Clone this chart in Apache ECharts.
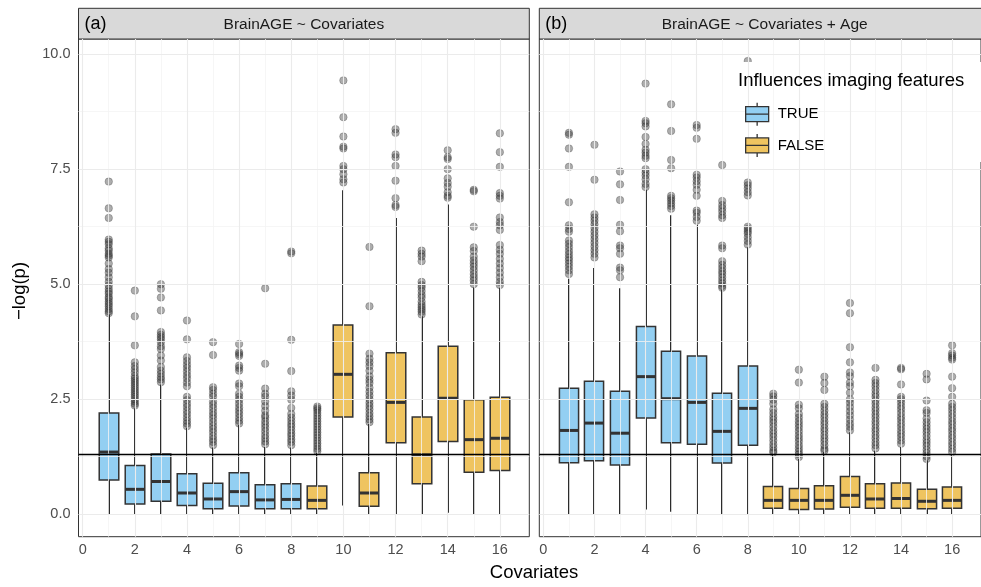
<!DOCTYPE html>
<html>
<head>
<meta charset="utf-8">
<script src="https://cdn.jsdelivr.net/npm/echarts@6/dist/echarts.min.js"></script>
<style>
  html, body { margin: 0; padding: 0; background: #fff; }
  #chart { width: 981px; height: 587px; }
</style>
</head>
<body>
<div id="chart"></div>
<script>
// covariate index and whether it influences imaging features
const covariates = [1, 2, 3, 4, 5, 6, 7, 8, 9, 10, 11, 12, 13, 14, 15, 16]
const influences = ['TRUE', 'TRUE', 'TRUE', 'TRUE', 'TRUE', 'TRUE', 'TRUE', 'TRUE',
  'FALSE', 'FALSE', 'FALSE', 'FALSE', 'FALSE', 'FALSE', 'FALSE', 'FALSE']

// (a) BrainAGE ~ Covariates : whisker low, q1, median, q3, whisker high
const aLow = [0, 0, 0, 0, 0, 0, 0, 0, 0, 0.19, 0, 0, 0, 0.03, 0, 0]
const aQ1 = [0.74, 0.22, 0.28, 0.19, 0.12, 0.18, 0.12, 0.12, 0.12, 2.11, 0.17, 1.55, 0.66, 1.58, 0.91, 0.95]
const aMed = [1.35, 0.54, 0.71, 0.46, 0.33, 0.49, 0.31, 0.32, 0.30, 3.04, 0.46, 2.43, 1.29, 2.52, 1.62, 1.65]
const aQ3 = [2.20, 1.06, 1.31, 0.88, 0.67, 0.90, 0.64, 0.66, 0.61, 4.11, 0.90, 3.51, 2.11, 3.65, 2.49, 2.54]
const aHigh = [4.34, 2.30, 2.82, 1.88, 1.45, 1.94, 1.46, 1.45, 1.33, 7.04, 1.96, 6.44, 4.30, 6.73, 4.93, 4.92]
const aOut = [
  [7.23, 6.65, 6.44, 5.97, 5.92, 5.87, 5.78, 5.73, 5.66, 5.62, 5.58, 5.45, 5.33, 5.25, 5.15, 5.05, 4.97, 4.9, 4.84, 4.79, 4.72, 4.68, 4.62, 4.57, 4.52, 4.46, 4.41, 4.37],
  [4.86, 4.30, 3.67, 3.30, 3.22, 3.15, 3.08, 3.0, 2.95, 2.9, 2.85, 2.8, 2.75, 2.7, 2.65, 2.6, 2.55, 2.5, 2.45, 2.4, 2.36],
  [5.0, 4.9, 4.71, 4.43, 3.96, 3.9, 3.85, 3.8, 3.74, 3.65, 3.59, 3.45, 3.34, 3.2, 3.12, 3.05, 2.98, 2.93, 2.87],
  [4.21, 3.8, 3.41, 3.33, 3.25, 3.18, 3.1, 3.02, 2.95, 2.86, 2.78, 2.55, 2.48, 2.4, 2.33, 2.25, 2.18, 2.1, 2.03, 1.97, 1.91],
  [3.74, 3.46, 2.76, 2.7, 2.62, 2.55, 2.45, 2.38, 2.3, 2.22, 2.15, 2.08, 2.0, 1.92, 1.85, 1.78, 1.7, 1.63, 1.57, 1.5],
  [3.70, 3.52, 3.48, 3.44, 3.23, 3.18, 3.12, 2.84, 2.78, 2.62, 2.55, 2.48, 2.4, 2.32, 2.25, 2.18, 2.1, 2.03, 1.97],
  [4.91, 3.27, 2.73, 2.62, 2.55, 2.45, 2.35, 2.25, 2.15, 2.1, 2.02, 1.95, 1.88, 1.8, 1.72, 1.65, 1.58, 1.52],
  [5.71, 5.67, 3.79, 3.11, 2.67, 2.58, 2.49, 2.31, 2.18, 2.1, 2.03, 1.96, 1.9, 1.83, 1.76, 1.7, 1.63, 1.57, 1.5],
  [2.34, 2.3, 2.26, 2.2, 2.14, 2.08, 2.02, 1.96, 1.9, 1.84, 1.78, 1.72, 1.66, 1.6, 1.54, 1.48, 1.42, 1.37],
  [9.43, 8.63, 8.21, 7.99, 7.95, 7.57, 7.5, 7.39, 7.28, 7.21],
  [5.81, 4.52, 3.49, 3.38, 3.3, 3.22, 3.12, 3.0, 2.92, 2.85, 2.75, 2.66, 2.58, 2.5, 2.42, 2.35, 2.28, 2.2, 2.13, 2.06, 2.0],
  [8.37, 8.29, 7.82, 7.76, 7.57, 7.25, 6.87, 6.72, 6.68],
  [5.73, 5.66, 5.6, 5.5, 5.05, 4.98, 4.93, 4.85, 4.77, 4.71, 4.62, 4.55, 4.5, 4.45, 4.4, 4.34],
  [7.91, 7.76, 7.72, 7.5, 7.3, 7.2, 7.12, 7.0, 6.92, 6.88],
  [7.05, 7.02, 6.25, 5.8, 5.72, 5.6, 5.52, 5.45, 5.38, 5.3, 5.22, 5.15, 5.08, 5.0],
  [8.28, 7.87, 7.55, 6.98, 6.92, 6.86, 6.45, 6.35, 6.28, 6.18, 5.85, 5.75, 5.66, 5.55, 5.45, 5.35, 5.25, 5.15, 5.05, 4.98]
]

// (b) BrainAGE ~ Covariates + Age
const bLow = [0, 0, 0, 0.10, 0.05, 0, 0, 0, 0, 0, 0, 0, 0, 0, 0, 0]
const bQ1 = [1.12, 1.16, 1.07, 2.09, 1.55, 1.52, 1.11, 1.50, 0.13, 0.10, 0.11, 0.15, 0.13, 0.13, 0.12, 0.13]
const bMed = [1.82, 1.98, 1.76, 2.99, 2.51, 2.43, 1.80, 2.30, 0.30, 0.30, 0.30, 0.41, 0.33, 0.34, 0.28, 0.30]
const bQ3 = [2.74, 2.89, 2.67, 4.08, 3.54, 3.44, 2.63, 3.22, 0.60, 0.56, 0.62, 0.82, 0.66, 0.68, 0.54, 0.59]
const bHigh = [5.12, 5.35, 4.91, 7.05, 6.50, 6.29, 4.88, 5.80, 1.30, 1.20, 1.35, 1.78, 1.38, 1.46, 1.17, 1.30]
const bOut = [
  [8.29, 8.25, 7.95, 7.55, 6.78, 6.28, 6.2, 6.14, 5.95, 5.88, 5.8, 5.72, 5.65, 5.58, 5.52, 5.45, 5.38, 5.3, 5.22],
  [8.03, 7.27, 6.52, 6.45, 6.38, 6.3, 6.22, 6.14, 6.06, 5.98, 5.9, 5.82, 5.74, 5.66, 5.58],
  [7.45, 7.17, 6.83, 6.29, 6.15, 5.84, 5.78, 5.66, 5.36, 5.3, 5.15],
  [9.36, 8.55, 8.5, 8.43, 8.2, 8.05, 7.92, 7.86, 7.79, 7.74, 7.5, 7.43, 7.36, 7.28, 7.18, 7.11],
  [8.91, 8.33, 7.7, 7.52, 6.92, 6.87, 6.82, 6.76, 6.7, 6.64],
  [8.46, 8.4, 8.16, 7.38, 7.32, 7.24, 7.16, 7.05, 6.92, 6.6, 6.55, 6.46, 6.38],
  [7.59, 6.81, 6.72, 6.65, 6.58, 6.5, 6.44, 5.84, 5.78, 5.5, 5.42, 5.35, 5.28, 5.22, 5.15, 5.08, 5.02, 4.96, 4.92],
  [9.85, 7.21, 7.15, 7.08, 7.0, 6.93, 6.25, 6.2, 6.15, 6.1, 6.02, 5.94, 5.86],
  [2.62, 2.56, 2.49, 2.4, 2.28, 2.2, 2.12, 2.05, 1.98, 1.9, 1.82, 1.75, 1.68, 1.6, 1.52, 1.45, 1.38, 1.34],
  [3.14, 2.86, 2.38, 2.3, 2.18, 2.1, 2.02, 1.95, 1.88, 1.8, 1.72, 1.65, 1.58, 1.5, 1.43, 1.36, 1.3, 1.24],
  [2.99, 2.85, 2.7, 2.4, 2.33, 2.25, 2.17, 2.1, 2.02, 1.95, 1.87, 1.8, 1.72, 1.65, 1.58, 1.5, 1.42, 1.38],
  [4.59, 4.37, 3.63, 3.3, 3.08, 3.0, 2.86, 2.78, 2.64, 2.5, 2.42, 2.33, 2.24, 2.15, 2.06, 1.97, 1.9, 1.82],
  [3.18, 2.92, 2.85, 2.78, 2.7, 2.62, 2.55, 2.47, 2.4, 2.32, 2.25, 2.17, 2.1, 2.02, 1.95, 1.87, 1.8, 1.72, 1.65, 1.57, 1.5, 1.43],
  [3.18, 3.15, 2.82, 2.55, 2.5, 2.43, 2.35, 2.28, 2.2, 2.12, 2.05, 1.97, 1.9, 1.82, 1.75, 1.68, 1.6, 1.53],
  [3.05, 2.93, 2.47, 2.26, 2.2, 2.08, 2.0, 1.92, 1.85, 1.78, 1.7, 1.62, 1.55, 1.48, 1.4, 1.33, 1.26, 1.2],
  [3.67, 3.5, 3.45, 3.4, 3.36, 2.99, 2.74, 2.55, 2.4, 2.33, 2.26, 2.18, 2.1, 2.02, 1.95, 1.87, 1.8, 1.72, 1.65, 1.57, 1.5, 1.42, 1.35]
]

const xTicks = [0, 2, 4, 6, 8, 10, 12, 14, 16]
const xMinor = [1, 3, 5, 7, 9, 11, 13, 15]
const yTicks = [0, 2.5, 5, 7.5, 10]
const yMinor = [1.25, 3.75, 6.25, 8.75]
const threshold = 1.301 // -log10(0.05)
const panelTitles = ['BrainAGE ~ Covariates', 'BrainAGE ~ Covariates + Age']
const panelTags = ['(a)', '(b)']

const FONT = '"Liberation Sans", Arial, Helvetica, sans-serif'
const fills = { TRUE: '#93cff2', FALSE: '#efc460' }
const EDGE = '#333333'
const panels = [
  { left: 78.5, low: aLow, q1: aQ1, med: aMed, q3: aQ3, high: aHigh, out: aOut },
  { left: 539.3, low: bLow, q1: bQ1, med: bMed, q3: bQ3, high: bHigh, out: bOut },
]
const PW = 450.8
const PTOP = 39
const PH = 497.7

function renderBox(params, api) {
  const x = api.value(0)
  const lo = api.coord([x, api.value(1)])
  const q1 = api.coord([x, api.value(2)])
  const md = api.coord([x, api.value(3)])
  const q3 = api.coord([x, api.value(4)])
  const hi = api.coord([x, api.value(5)])
  const half = api.size([0.75, 0])[0] / 2
  const cx = Math.round(q1[0])
  return {
    type: 'group',
    children: [
      // whiskers as 2px filled bars on whole pixels
      { type: 'rect', shape: { x: cx - 1, y: q1[1], width: 2, height: lo[1] - q1[1] }, style: { fill: '#2b2b2b' }, z2: 1 },
      { type: 'rect', shape: { x: cx - 1, y: hi[1], width: 2, height: q3[1] - hi[1] }, style: { fill: '#2b2b2b' }, z2: 1 },
      {
        type: 'rect',
        shape: { x: cx - half, y: q3[1], width: half * 2, height: q1[1] - q3[1] },
        style: { fill: api.visual('color'), stroke: EDGE, lineWidth: 1.5 }, z2: 2,
      },
      { type: 'rect', shape: { x: cx - half, y: md[1] - 1.5, width: half * 2, height: 3 }, style: { fill: EDGE }, z2: 3 },
    ],
  }
}

function gridLines() {
  const major = { color: '#ebebeb', width: 1.1, type: 'solid' }
  const minor = { color: '#f4f4f4', width: 0.8, type: 'solid' }
  return [
    ...xMinor.map((v) => ({ xAxis: v, lineStyle: minor })),
    ...yMinor.map((v) => ({ yAxis: v, lineStyle: minor })),
    ...xTicks.map((v) => ({ xAxis: v, lineStyle: major })),
    ...yTicks.map((v) => ({ yAxis: v, lineStyle: major })),
  ]
}

const grid = []
const xAxis = []
const yAxis = []
const series = []
const graphic = []

panels.forEach((p, gi) => {
  grid.push({
    left: p.left, top: PTOP, width: PW, height: PH,
    show: true, backgroundColor: '#fff', borderColor: EDGE, borderWidth: 1,
  })
  xAxis.push({
    gridIndex: gi, type: 'value', min: -0.16, max: 17.13,
    axisLine: { show: false },
    splitLine: { show: false },
    axisTick: { show: true, length: 4, lineStyle: { color: EDGE, width: 1 }, customValues: xTicks },
    axisLabel: { customValues: xTicks, color: '#4d4d4d', fontSize: 14.5, fontFamily: FONT, margin: 6 },
  })
  yAxis.push({
    gridIndex: gi, type: 'value', min: -0.49, max: 10.33,
    axisLine: { show: false },
    splitLine: { show: false },
    axisTick: { show: gi === 0, length: 4, lineStyle: { color: EDGE, width: 1 }, customValues: yTicks },
    axisLabel: {
      show: gi === 0, customValues: yTicks, color: '#4d4d4d', fontSize: 14.5, fontFamily: FONT, margin: 8,
      formatter: (v) => v.toFixed(1),
    },
  })

  // background grid lines
  series.push({
    type: 'line', xAxisIndex: gi, yAxisIndex: gi, data: [], z: 1, silent: true,
    markLine: { silent: true, symbol: 'none', label: { show: false }, animation: false, data: gridLines() },
  })

  ;['TRUE', 'FALSE'].forEach((grp) => {
    const data = []
    covariates.forEach((c, i) => {
      if (influences[i] === grp) data.push([c, p.low[i], p.q1[i], p.med[i], p.q3[i], p.high[i]])
    })
    series.push({
      name: grp, type: 'custom', xAxisIndex: gi, yAxisIndex: gi, z: 2,
      itemStyle: { color: fills[grp] },
      encode: { x: 0, y: [1, 2, 3, 4, 5] },
      renderItem: renderBox,
      data,
    })
  })

  const outliers = []
  covariates.forEach((c, i) => p.out[i].forEach((v) => outliers.push([c, v])))
  series.push({
    type: 'scatter', xAxisIndex: gi, yAxisIndex: gi, z: 3, silent: true,
    symbol: 'circle', symbolSize: 7.5,
    itemStyle: { color: 'rgba(51,51,51,0.5)', borderColor: 'rgba(51,51,51,0.35)', borderWidth: 1 },
    data: outliers,
    markLine: {
      silent: true, symbol: 'none', label: { show: false }, animation: false,
      lineStyle: { color: '#000', width: 1.3, type: 'solid' },
      data: [{ yAxis: threshold }],
    },
  })

  // facet strip
  graphic.push({
    type: 'rect', z: 5,
    shape: { x: p.left, y: 8.3, width: gi === 0 ? PW : PW + 20, height: PTOP - 8.3 },
    style: { fill: '#d9d9d9', stroke: EDGE, lineWidth: 1 },
  })
  graphic.push({
    type: 'text', z: 6, x: p.left + 6, y: 24,
    style: { text: panelTags[gi], fontSize: 18, fontFamily: FONT, fill: '#000', textVerticalAlign: 'middle' },
  })
  graphic.push({
    type: 'text', z: 6, x: p.left + PW / 2, y: 24.5,
    style: { text: panelTitles[gi], fontSize: 15.5, fontFamily: FONT, fill: '#1a1a1a', textAlign: 'center', textVerticalAlign: 'middle' },
  })
})

// legend backdrop and title
graphic.push({
  type: 'rect', z: 5,
  shape: { x: 729, y: 62, width: 260, height: 100 },
  style: { fill: '#fff' },
})
graphic.push({
  type: 'text', z: 6, x: 738, y: 81,
  style: { text: 'Influences imaging features', fontSize: 18.5, fontFamily: FONT, fill: '#000', textVerticalAlign: 'middle' },
})
// axis titles
graphic.push({
  type: 'text', z: 6, x: 534, y: 573,
  style: { text: 'Covariates', fontSize: 18.5, fontFamily: FONT, fill: '#000', textAlign: 'center', textVerticalAlign: 'middle' },
})
graphic.push({
  type: 'text', z: 6, x: 20, y: 291, rotation: Math.PI / 2,
  style: { text: '\u2212log(p)', fontSize: 18.5, fontFamily: FONT, fill: '#000', textAlign: 'center', textVerticalAlign: 'middle' },
})

const keyIcon = 'path://M11.5,0L11.5,4M0,4L23,4L23,19L0,19ZM0,11.5L23,11.5M11.5,19L11.5,23'

const chart = echarts.init(document.getElementById('chart'), null, { renderer: 'canvas' })
chart.setOption({
  animation: false,
  backgroundColor: '#fff',
  grid,
  xAxis,
  yAxis,
  legend: {
    orient: 'vertical', left: 740, top: 97, z: 7,
    itemWidth: 23, itemHeight: 23, itemGap: 7, selectedMode: false,
    textStyle: { fontSize: 15, fontFamily: FONT, color: '#000', padding: [0, 0, 0, 4] },
    data: [
      { name: 'TRUE', icon: keyIcon, itemStyle: { color: fills.TRUE, borderColor: EDGE, borderWidth: 1.3 } },
      { name: 'FALSE', icon: keyIcon, itemStyle: { color: fills.FALSE, borderColor: EDGE, borderWidth: 1.3 } },
    ],
  },
  graphic,
  series,
})

window.addEventListener('resize', () => chart.resize())
</script>
</body>
</html>
